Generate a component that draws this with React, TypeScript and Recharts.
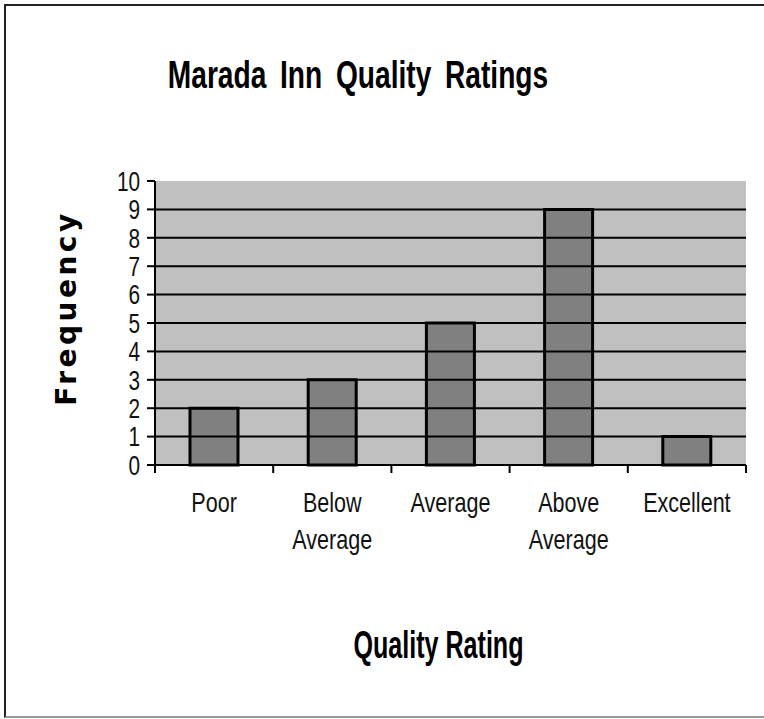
import { BarChart, Bar, XAxis, YAxis, CartesianGrid, ReferenceLine, Label } from 'recharts'

const categories = ['Poor', 'Below Average', 'Average', 'Above Average', 'Excellent']
const frequency = [2, 3, 5, 9, 1]
const yTicks = [0, 1, 2, 3, 4, 5, 6, 7, 8, 9, 10]

const data = categories.map((c, i) => ({ rating: c, freq: frequency[i] }))

// no narrow font installed, so squeeze Liberation Sans horizontally
const FONT = "'Liberation Sans', Arial, sans-serif"
const SQUEEZE = 0.77
const TICK = 8

// category label plus tick marks on the category boundaries (Excel style)
function CategoryTick(props: any) {
    const { x, y, payload, index, visibleTicksCount, width } = props
    const half = payload.offset || width / visibleTicksCount / 2
    const lines = String(payload.value).split(' ')
    return (
        <g>
            <line x1={x - half} x2={x - half} y1={y - TICK} y2={y} stroke="#000" strokeWidth={2} />
            {index === visibleTicksCount - 1 && (
                <line x1={x + half} x2={x + half} y1={y - TICK} y2={y} stroke="#000" strokeWidth={2} />
            )}
            <text transform={`translate(${x} ${y}) scale(${SQUEEZE} 1)`} textAnchor="middle"
                fontFamily={FONT} fontSize={28} fill="#111">
                {lines.map((l: string, i: number) => (
                    <tspan key={i} x={0} dy={i === 0 ? 39 : 37}>{l}</tspan>
                ))}
            </text>
        </g>
    )
}

function ValueTick(props: any) {
    const { x, y, payload } = props
    return (
        <text transform={`translate(${x} ${y}) scale(${SQUEEZE} 1)`} textAnchor="end"
            fontFamily={FONT} fontSize={27} fill="#111" dy="0.36em">
            {payload.value}
        </text>
    )
}

export default function App() {
    return (
        <div style={{ position: 'absolute', left: 0, top: 0, width: 764, height: 719, background: '#fff', overflow: 'hidden' }}>
            <div style={{
                position: 'absolute', left: 4, top: 4, width: 760, height: 710,
                borderLeft: '2px solid #222', borderTop: '2px solid #222', borderBottom: '2px solid #999',
            }} />
            <div style={{
                position: 'absolute', left: 0, width: 716, top: 54, textAlign: 'center',
                fontFamily: FONT, fontWeight: 'bold', fontSize: 38, color: '#000', wordSpacing: 8,
                transform: 'scaleX(0.74)',
            }}>
                Marada Inn Quality Ratings
            </div>
            <div style={{ position: 'absolute', left: 0, top: 0 }}>
                <BarChart width={764} height={719} data={data}
                    margin={{ top: 181, right: 18, bottom: 118, left: 95 }}>
                    <CartesianGrid horizontal={false} vertical={false} fill="#c0c0c0" />
                    {yTicks.filter((t) => t > 0 && t < 10).map((t) => (
                        <ReferenceLine key={t} y={t} stroke="#000" strokeWidth={2} />
                    ))}
                    <XAxis dataKey="rating" height={136} tick={<CategoryTick />}
                        axisLine={{ stroke: '#000', strokeWidth: 2 }} tickLine={false}
                        tickSize={TICK} tickMargin={0} interval={0}>
                        <Label content={({ viewBox }: any) => (
                            <text transform={`translate(${viewBox.x + viewBox.width / 2 - 12} ${viewBox.y + 193}) scale(0.66 1)`}
                                textAnchor="middle" fontFamily={FONT} fontWeight="bold" fontSize={38} fill="#000">
                                Quality Rating
                            </text>
                        )} />
                    </XAxis>
                    <YAxis domain={[0, 10]} ticks={yTicks} interval={0} width={60} tickSize={TICK}
                        axisLine={{ stroke: '#000', strokeWidth: 2 }} tickLine={{ stroke: '#000', strokeWidth: 2 }}
                        tick={<ValueTick />} tickMargin={7}>
                        <Label content={({ viewBox }: any) => (
                            <text transform={`translate(${viewBox.x - 29}, ${viewBox.y + viewBox.height / 2 - 15}) rotate(-90)`}
                                textAnchor="middle" dominantBaseline="central" fontFamily="'DejaVu Sans', sans-serif"
                                fontWeight="bold" fontSize={28} letterSpacing={3.5} fill="#000">
                                Frequency
                            </text>
                        )} />
                    </YAxis>
                    <Bar dataKey="freq" fill="#808080" stroke="#000" strokeWidth={3}
                        barSize={48} isAnimationActive={false} />
                </BarChart>
            </div>
        </div>
    )
}
